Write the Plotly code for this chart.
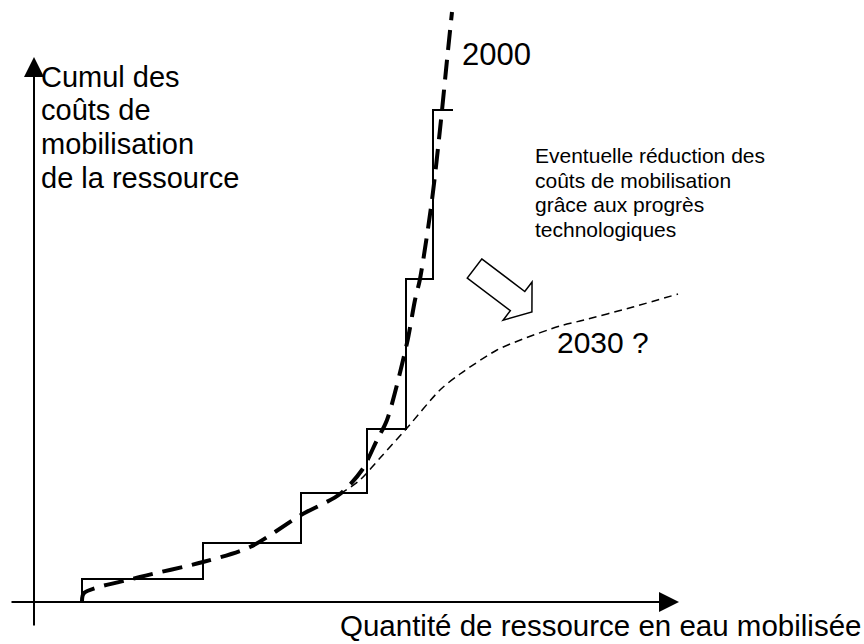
import math
import plotly.graph_objects as go

# ---- data (schematic units, origin at the axes crossing) ----
step_edges = [48, 169, 267, 333, 372, 399, 419]          # quantity where each cost block starts (last = end)
step_costs = [22, 58, 108, 172, 322, 491]                 # cumulative cost level of each block

curve2000_q = [48, 50, 106, 169, 216, 267, 306, 328, 343, 353, 373, 381, 386, 398, 407, 413, 418]
curve2000_c = [0, 8, 24, 39, 54, 86, 107, 131, 161, 181, 258, 301, 322, 401, 481, 541, 589]

curve2030_q = [306, 326, 346, 373, 406, 426, 463, 489, 526, 546, 599, 644]
curve2030_c = [107, 121, 143, 173, 211, 227, 251, 262, 275, 280, 294, 307]

y_title_lines = ["Cumul des", "coûts de", "mobilisation", "de la ressource"]
x_title = "Quantité de ressource en eau mobilisée"
note_lines = ["Eventuelle réduction des", "coûts de mobilisation",
              "grâce aux progrès", "technologiques"]
label_2000 = "2000"
label_2030 = "2030 ?"

FONT = "Liberation Sans, Arial, sans-serif"

fig = go.Figure()

# step function
step_x = [step_edges[0]] + step_edges
step_y = [0] + step_costs + [step_costs[-1]]
fig.add_trace(go.Scatter(x=step_x, y=step_y, mode="lines", line_shape="hv",
                         line=dict(color="black", width=2), hoverinfo="skip"))

# 2030 curve (thin dashed)
fig.add_trace(go.Scatter(x=curve2030_q, y=curve2030_c, mode="lines",
                         line=dict(color="black", width=1.5, dash="8px,5px",
                                   shape="spline", smoothing=0.8), hoverinfo="skip"))

# 2000 curve (thick dashed)
fig.add_trace(go.Scatter(x=curve2000_q, y=curve2000_c, mode="lines",
                         line=dict(color="black", width=4, dash="20px,10px",
                                   shape="spline", smoothing=0.8), hoverinfo="skip"))

ann = []
# axes with arrows
ann.append(dict(x=0, y=544, ax=0, ay=-26, xref="x", yref="y", axref="x", ayref="y",
                text="", showarrow=True, arrowhead=2, arrowsize=2, arrowwidth=2,
                arrowcolor="black"))
ann.append(dict(x=645, y=-1, ax=-24, ay=-1, xref="x", yref="y", axref="x", ayref="y",
                text="", showarrow=True, arrowhead=2, arrowsize=2, arrowwidth=2,
                arrowcolor="black"))

# y title lines
for i, t in enumerate(y_title_lines):
    ann.append(dict(x=5.5, y=524.5 - 33.7 * i, xref="x", yref="y", text=t, showarrow=False,
                    xanchor="left", yanchor="middle", borderpad=0,
                    font=dict(family=FONT, size=29, color="black")))
# x title
ann.append(dict(x=828, y=-24, xref="x", yref="y", text=x_title, showarrow=False,
                xanchor="right", yanchor="middle", borderpad=0,
                font=dict(family=FONT, size=29.5, color="black")))
# curve labels
ann.append(dict(x=427, y=546.5, xref="x", yref="y", text=label_2000, showarrow=False,
                xanchor="left", yanchor="middle", borderpad=0,
                font=dict(family=FONT, size=31, color="black")))
ann.append(dict(x=522, y=258.5, xref="x", yref="y", text=label_2030, showarrow=False,
                xanchor="left", yanchor="middle", borderpad=0,
                font=dict(family=FONT, size=30, color="black")))
# note
for i, t in enumerate(note_lines):
    ann.append(dict(x=499.5, y=445.5 - 24.7 * i, xref="x", yref="y", text=t, showarrow=False,
                    xanchor="left", yanchor="middle", borderpad=0,
                    font=dict(family=FONT, size=21, color="black")))

# hollow block arrow (tail centre, direction, sizes)
tail = (440.5, 332.5)
theta = math.atan2(-43.5, 57.5)
L, shaft_w, head_w, head_l = 72, 24, 48, 18
ux, uy = math.cos(theta), math.sin(theta)
nx, ny = -uy, ux
def pt(a, b):
    return (tail[0] + ux * a + nx * b, tail[1] + uy * a + ny * b)
verts = [pt(0, shaft_w / 2), pt(L - head_l, shaft_w / 2), pt(L - head_l, head_w / 2),
         pt(L, 0), pt(L - head_l, -head_w / 2), pt(L - head_l, -shaft_w / 2), pt(0, -shaft_w / 2)]
path = "M " + " L ".join(f"{x:.2f},{y:.2f}" for x, y in verts) + " Z"

fig.update_layout(
    width=864, height=644,
    margin=dict(l=0, r=0, t=0, b=0),
    paper_bgcolor="white", plot_bgcolor="white",
    showlegend=False,
    xaxis=dict(range=[-34, 830], visible=False, fixedrange=True),
    yaxis=dict(range=[-43, 601], visible=False, fixedrange=True),
    annotations=ann,
    shapes=[dict(type="path", path=path, xref="x", yref="y",
                 line=dict(color="black", width=1.5), fillcolor="white")],
)

fig.write_html("out.html", config={"displayModeBar": False},
               post_script="document.body.style.margin='0';document.body.style.overflow='hidden';")
